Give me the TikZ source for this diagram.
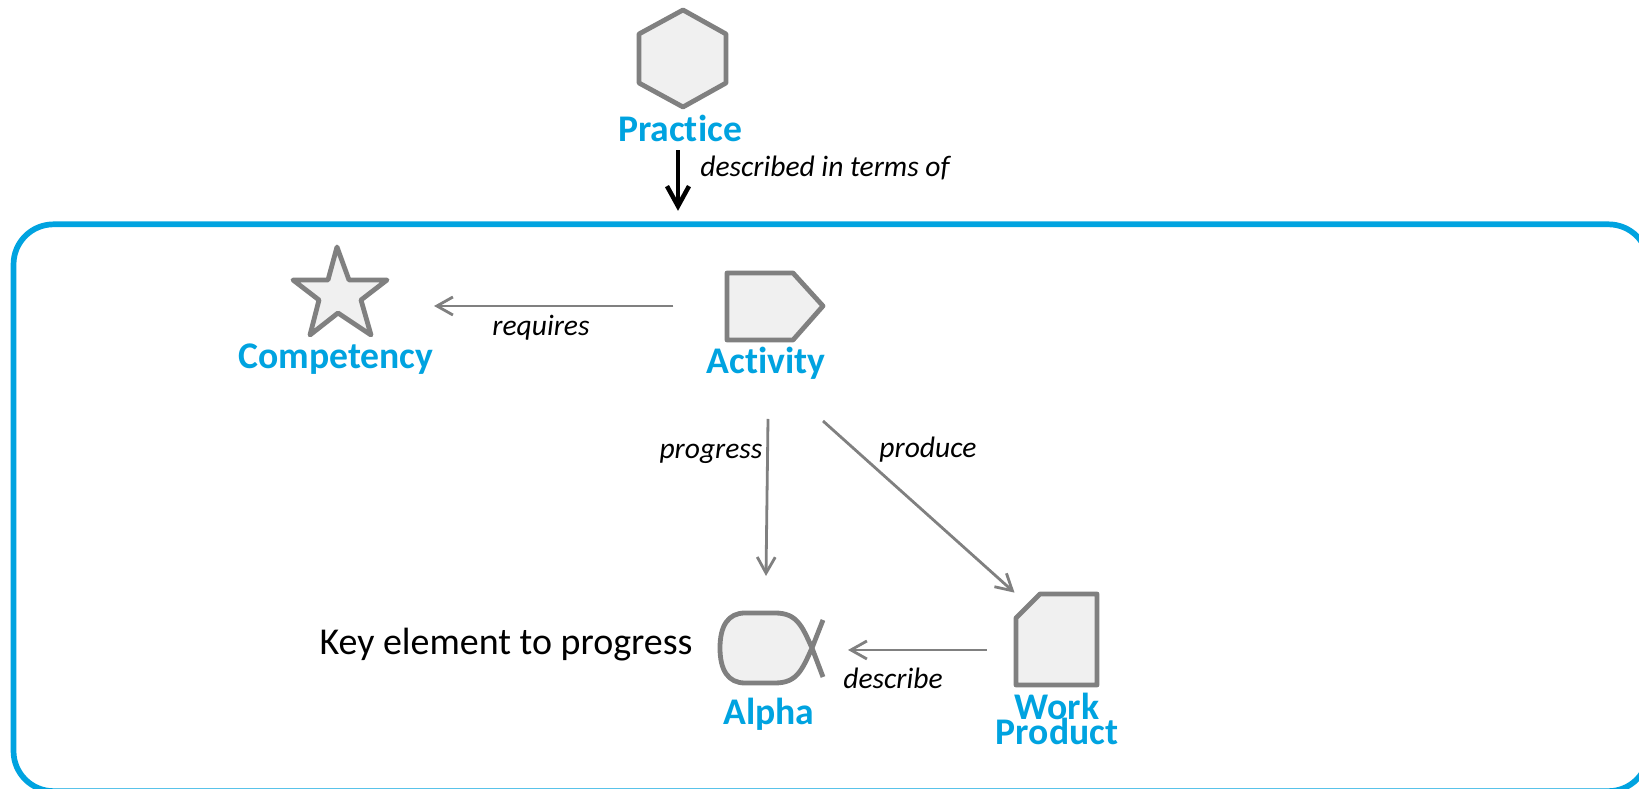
\documentclass[tikz,border=0pt]{standalone}
\usepackage{fontspec}
\setmainfont[Ligatures=NoCommon]{Carlito}
\usetikzlibrary{arrows.meta}
\definecolor{methodblue}{HTML}{00A3E0}
\definecolor{icongrey}{HTML}{808080}
\definecolor{iconfill}{HTML}{F0F0F0}
\tikzset{
    iconline/.style={draw=icongrey,fill=iconfill,line width=0.048cm,line join=round},
    icon/.style={inner sep=0,outer sep=0},
    kind/.style={text=methodblue,font=\fontsize{10.7}{7.1}\selectfont\bfseries,inner sep=0,outer sep=0},
    verb/.style={font=\fontsize{8.4}{9}\selectfont\itshape,inner sep=0,outer sep=0,anchor=base},
    flow/.style={draw=icongrey,line width=0.028cm,-{Straight Barb[length=0.16cm,width=0.18cm]}},
}
\begin{document}
\begin{tikzpicture}[x=0.01cm,y=-0.01cm]
            \clip (0,0) rectangle (1639,789);
            \fill[white] (0,0) rectangle (1639,789);
            \node[draw=methodblue,line width=0.057cm,rounded corners=0.4cm,inner sep=0,outer sep=0,minimum width=16.34cm,minimum height=5.665cm] (method) at (831,507.75) {};
            % icons
            \node[icon,minimum width=0.87cm,minimum height=0.98cm] (practice) at (682.5,58) {};
            \draw[iconline] (683,10)--(726,34)--(726,83)--(683,107)--(639,83)--(639,34)--cycle;
            \node[icon,minimum width=0.94cm,minimum height=0.88cm] (competency) at (340,305) {};
            \draw[iconline] (337,247)--(349,280)--(387,280)--(361,300)--(371,335)--(338,313)--(310,335)--(319,300)--(293,280)--(328,280)--cycle;
            \node[icon,minimum width=0.97cm,minimum height=0.68cm] (activity) at (775,306) {};
            \draw[iconline] (727,273)--(793,273)--(823,306)--(793,340)--(727,340)--cycle;
            \node[icon,minimum width=1.03cm,minimum height=0.7cm] (alpha) at (771.5,650) {};
            \fill[iconfill] (722,648) .. controls (722,627) and (729,615) .. (745,615)--(775,615) .. controls (795,615) and (800,627) .. (810,648) .. controls (800,669) and (795,681) .. (775,681)--(745,681) .. controls (729,681) and (722,669) .. cycle;
            \draw[iconline,fill=none] (823,620)--(812,648) .. controls (802,670) and (797,683) .. (775,683)--(745,683) .. controls (728,683) and (720,670) .. (720,648) .. controls (720,626) and (728,613) .. (745,613)--(775,613) .. controls (797,613) and (802,626) .. (812,648)--(823,677);
            \node[icon,minimum width=0.81cm,minimum height=0.91cm] (workproduct) at (1056.5,639.5) {};
            \draw[iconline] (1040,594)--(1097,594)--(1097,685)--(1016,685)--(1016,618)--cycle;
            % names
            \node[kind,anchor=base] (practicelbl) at (680,142) {Practice};
            \node[kind,anchor=base] (competencylbl) at (336,369) {Competency};
            \node[kind,anchor=base] (activitylbl) at (766,374) {Activity};
            \node[kind,anchor=base] (alphalbl) at (769,725) {Alpha};
            \node[kind,align=center] (workproductlbl) at (1057,719) {Work\\[-0.06cm]Product};
            % relations
            \coordinate (produce start) at (823,421);
            \coordinate (progress start) at (768,419);
            \draw[line width=0.045cm,-{Straight Barb[length=0.2cm,width=0.22cm]},shorten <=0.08cm,shorten >=0.135cm] ([xshift=-0.02cm]practicelbl.south) -- ([xshift=-0.02cm]practicelbl.south |- method.north);
            \draw[flow,shorten <=0.53cm,shorten >=0.47cm] (activity.west) -- (activity.west -| competency.east);
            \draw[flow,shorten >=0.39cm] (progress start) -- ([xshift=-0.06cm]alpha.north);
            \draw[flow,shorten >=0.02cm] (produce start) -- (workproduct.north west);
            \draw[flow,shorten <=0.29cm,shorten >=0.25cm] (alpha.east -| workproduct.west) -- (alpha.east);
            \node[verb] (describedlbl) at (825,177) {described in terms of};
            \node[verb] (requireslbl) at (541,336) {requires};
            \node[verb] (progresslbl) at (711,459) {progress};
            \node[verb] (producelbl) at (928,458) {produce};
            \node[verb] (describelbl) at (893,689) {describe};
            \node[inner sep=0,outer sep=0,anchor=base,font=\fontsize{10.8}{12}\selectfont] (keylbl) at (506,655) {Key element to progress};
        \end{tikzpicture}
\end{document}
